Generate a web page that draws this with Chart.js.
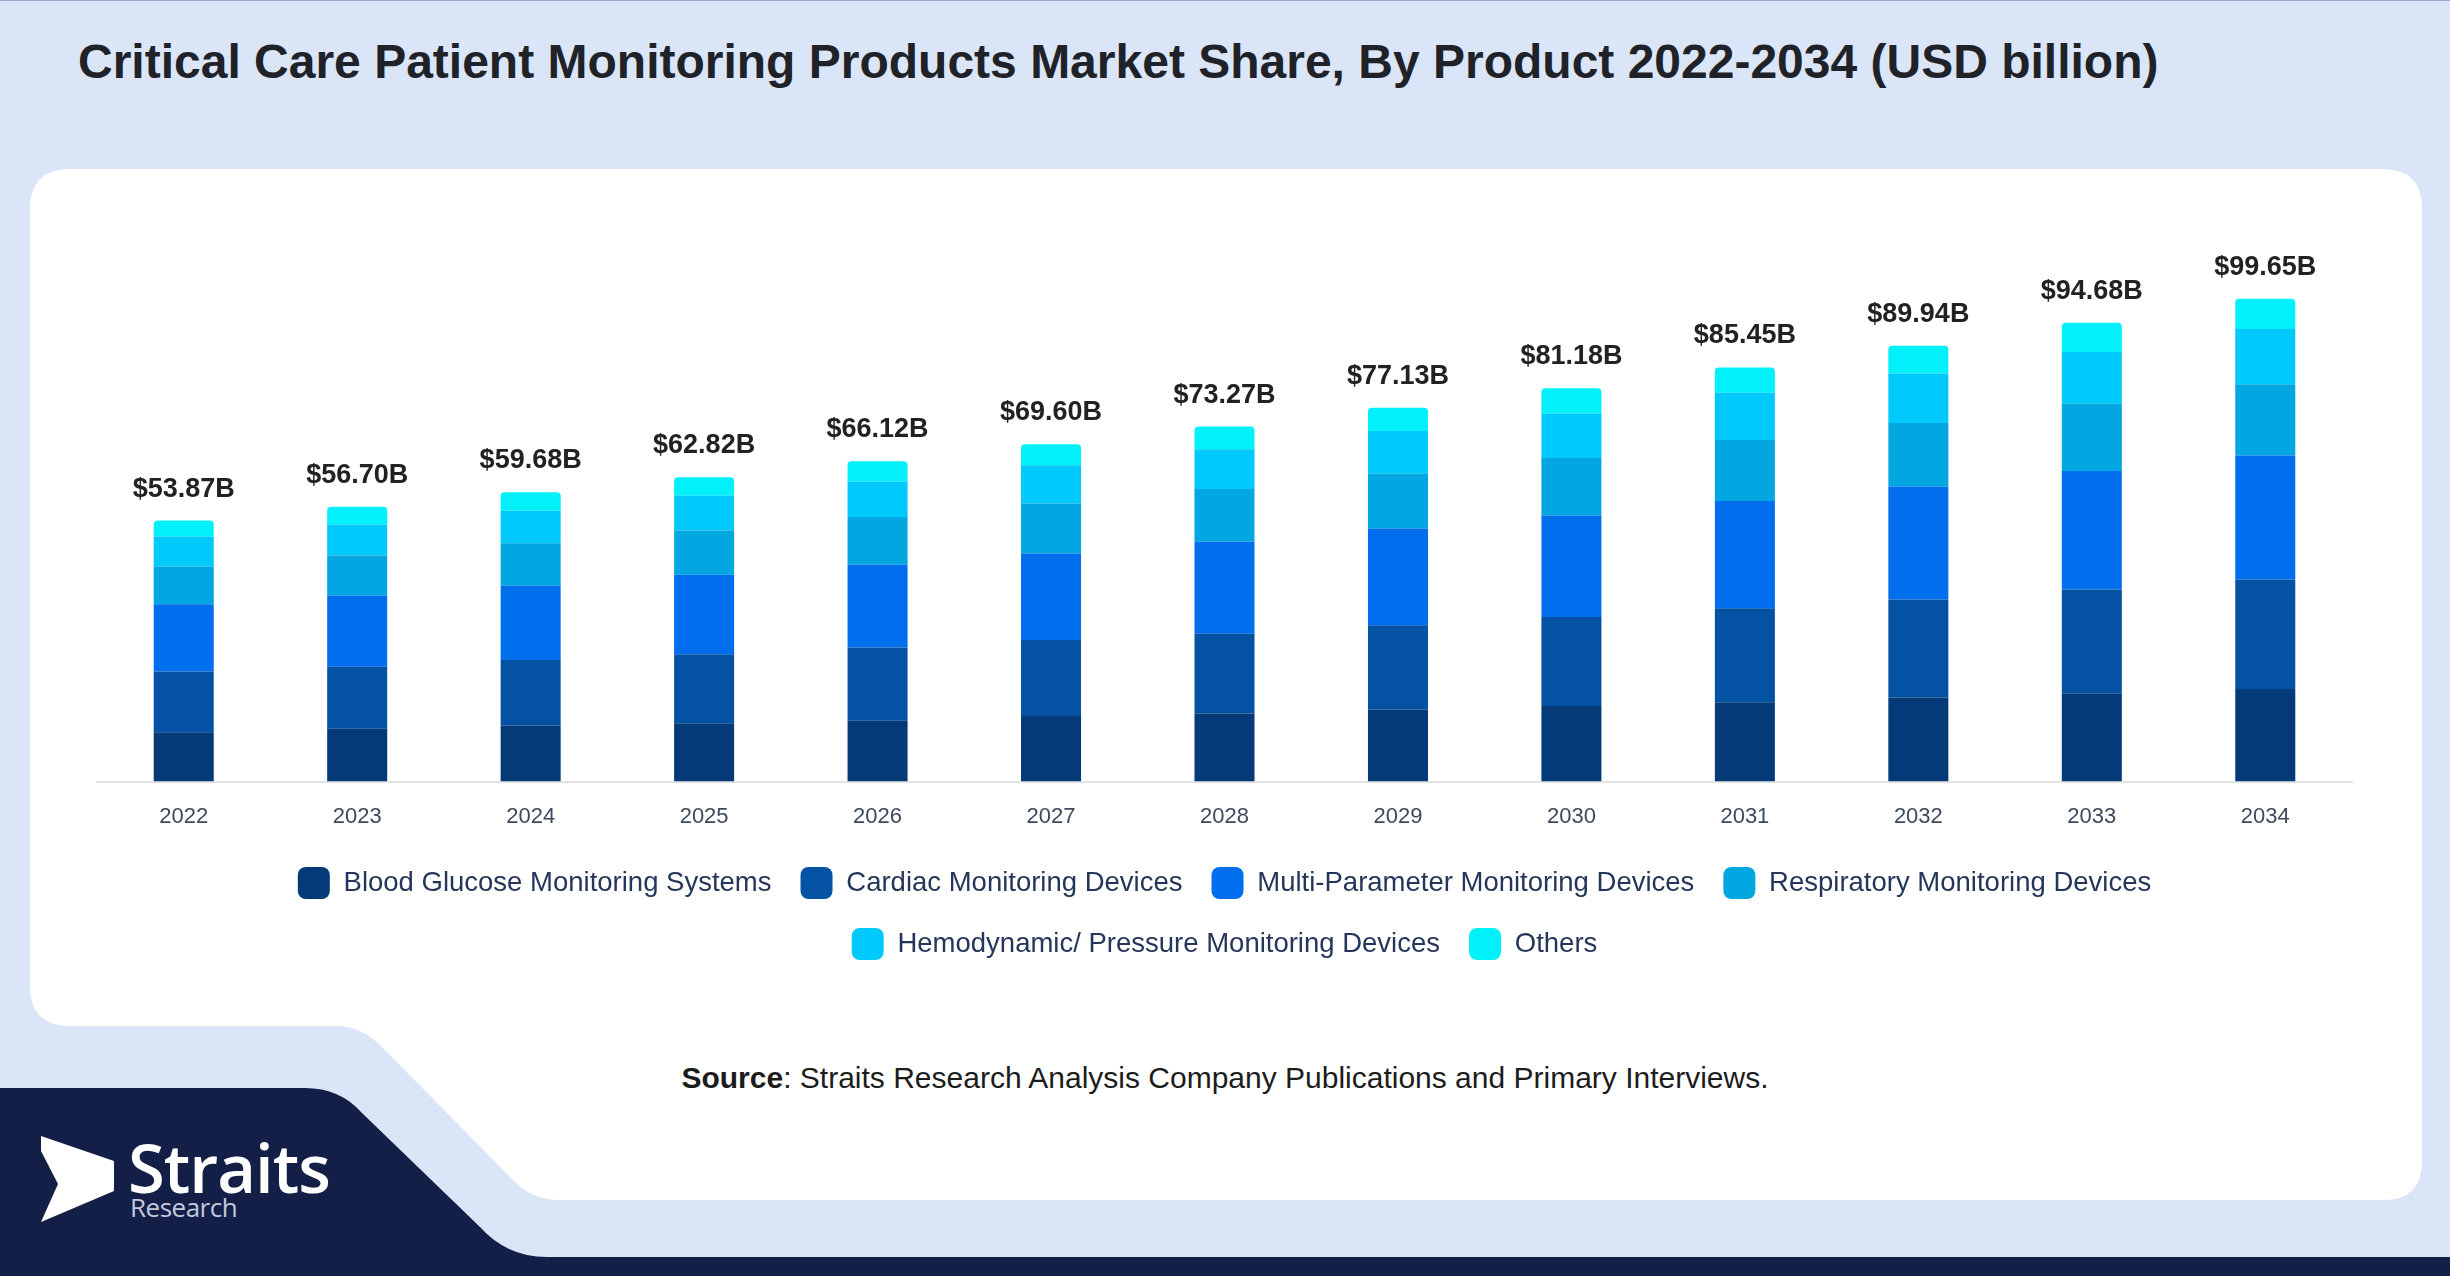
<!DOCTYPE html>
<html>
<head>
<meta charset="utf-8">
<title>Critical Care Patient Monitoring Products Market Share</title>
<script src="https://cdn.jsdelivr.net/npm/chart.js@4.4.1/dist/chart.umd.min.js"></script>
<style>
  html, body { margin: 0; padding: 0; }
  body {
    width: 2450px; height: 1276px; overflow: hidden; position: relative;
    background: #dae6f8; font-family: 'Liberation Sans', Arial, sans-serif;
    border-top: 1px solid #9eabc8; box-sizing: border-box;
  }
  #bg { position: absolute; left: 0; top: 0; }
  h1 {
    position: absolute; left: 78px; top: 33px; margin: 0;
    font-size: 48px; font-weight: bold; color: #1f2329; white-space: nowrap;
  }
  #wrap { position: absolute; left: 30px; top: 168px; width: 2392px; height: 815px; }
  #source {
    position: absolute; left: 0; width: 2450px; top: 1060px; text-align: center;
    font-size: 30px; color: #1c1c1c; white-space: nowrap;
  }
  #logo1 {
    position: absolute; left: 128px; top: 1120px; font-family: 'Open Sans', sans-serif;
    font-size: 67px; font-weight: 600; color: #fff; letter-spacing: -1px;
  }
  #logo2 {
    position: absolute; left: 130px; top: 1188px; font-family: 'Open Sans', sans-serif;
    font-size: 26px; color: #c3c9dc; letter-spacing: -0.5px;
  }
</style>
</head>
<body>
<svg id="bg" width="2450" height="1276">
  <path d="M70 168 H2382 Q2422 168 2422 208 V1160 Q2422 1199 2383 1199 H560 Q532 1199 514 1180 L382 1046 Q362 1025 335 1025 H70 Q30 1025 30 985 V208 Q30 168 70 168 Z" fill="#ffffff"/>
  <path d="M0 1087 H305 Q340 1087 362 1112 L480 1226 Q507 1256 547 1256 H2450 V1276 H0 Z" fill="#131f47"/>
  <path d="M41 1135 L114 1160 L114 1190 L41 1221 L58 1183 L41 1150 Z" fill="#ffffff"/>
</svg>
<h1>Critical Care Patient Monitoring Products Market Share, By Product 2022-2034 (USD billion)</h1>
<div id="wrap"><canvas id="myChart"></canvas></div>
<div id="source"><b>Source</b>: Straits Research Analysis Company Publications and Primary Interviews.</div>
<div id="logo1">Straits</div>
<div id="logo2">Research</div>
<script>
const years = ['2022', '2023', '2024', '2025', '2026', '2027', '2028', '2029', '2030', '2031', '2032', '2033', '2034']
const totals = [53.87, 56.70, 59.68, 62.82, 66.12, 69.60, 73.27, 77.13, 81.18, 85.45, 89.94, 94.68, 99.65]

const bloodGlucose = [10.18, 10.93, 11.55, 12.04, 12.57, 13.54, 14.06, 14.90, 15.58, 16.36, 17.37, 18.21, 19.12]
const cardiac = [12.52, 12.79, 13.54, 14.25, 15.11, 15.67, 16.46, 17.38, 18.39, 19.39, 20.18, 21.44, 22.58]
const multiParameter = [13.90, 14.70, 15.33, 16.38, 17.09, 17.86, 19.00, 19.92, 20.93, 22.14, 23.34, 24.46, 25.59]
const respiratory = [7.77, 8.25, 8.74, 9.15, 9.82, 10.31, 10.84, 11.33, 11.87, 12.58, 13.11, 13.88, 14.71]
const hemodynamic = [6.19, 6.39, 6.74, 7.16, 7.35, 7.90, 8.23, 8.79, 9.19, 9.76, 10.23, 10.65, 11.40]
const others = [3.31, 3.64, 3.78, 3.84, 4.18, 4.32, 4.68, 4.81, 5.22, 5.22, 5.71, 6.04, 6.25]

Chart.defaults.font.family = "'Liberation Sans', Arial, sans-serif"

// totals written above each stack
const totalLabels = {
  id: 'totalLabels',
  afterDatasetsDraw(chart) {
    const ctx = chart.ctx
    const last = chart.data.datasets.length - 1
    const meta = chart.getDatasetMeta(last)
    ctx.save()
    ctx.font = "bold 27px 'Liberation Sans', Arial, sans-serif"
    ctx.fillStyle = '#222222'
    ctx.textAlign = 'center'
    ctx.textBaseline = 'alphabetic'
    meta.data.forEach((bar, i) => {
      ctx.fillText('$' + totals[i].toFixed(2) + 'B', bar.x, bar.y - 24)
    })
    ctx.restore()
  },
}

// pull the legend a little closer to the year labels
const legendNudge = {
  id: 'legendNudge',
  afterLayout(chart) {
    chart.legend.top -= 14
    chart.legend.bottom -= 14
  },
}

let myChart = document.getElementById('myChart').getContext('2d')

let chart = new Chart(myChart, {
  type: 'bar',
  data: {
    labels: years,
    datasets: [
      { label: 'Blood Glucose Monitoring Systems', data: bloodGlucose, backgroundColor: '#033a77' },
      { label: 'Cardiac Monitoring Devices', data: cardiac, backgroundColor: '#0352a3' },
      { label: 'Multi-Parameter Monitoring Devices', data: multiParameter, backgroundColor: '#016eed' },
      { label: 'Respiratory Monitoring Devices', data: respiratory, backgroundColor: '#02a6e1' },
      { label: 'Hemodynamic/ Pressure Monitoring Devices', data: hemodynamic, backgroundColor: '#00c9fc' },
      { label: 'Others', data: others, backgroundColor: '#00f1fa', borderRadius: 4 },
    ],
  },
  options: {
    responsive: true,
    maintainAspectRatio: false,
    animation: false,
    datasets: {
      bar: { barPercentage: 0.346, categoryPercentage: 1, borderWidth: 0 },
    },
    layout: {
      padding: { left: 67, right: 70, top: 79.5, bottom: 0 },
    },
    scales: {
      x: {
        stacked: true,
        grid: { display: false, drawTicks: false },
        border: { display: true, color: '#e4e4e4', width: 2 },
        ticks: { color: '#3d4a5c', font: { size: 22 }, padding: 22 },
      },
      y: {
        stacked: true,
        display: false,
        min: 0,
        max: 110,
      },
    },
    plugins: {
      legend: {
        position: 'bottom',
        labels: {
          boxWidth: 32,
          boxHeight: 32,
          useBorderRadius: true,
          borderRadius: 8,
          padding: 29,
          color: '#26365a',
          font: { size: 27.5 },
        },
      },
      tooltip: { enabled: false },
    },
  },
  plugins: [totalLabels, legendNudge],
})
</script>
</body>
</html>
